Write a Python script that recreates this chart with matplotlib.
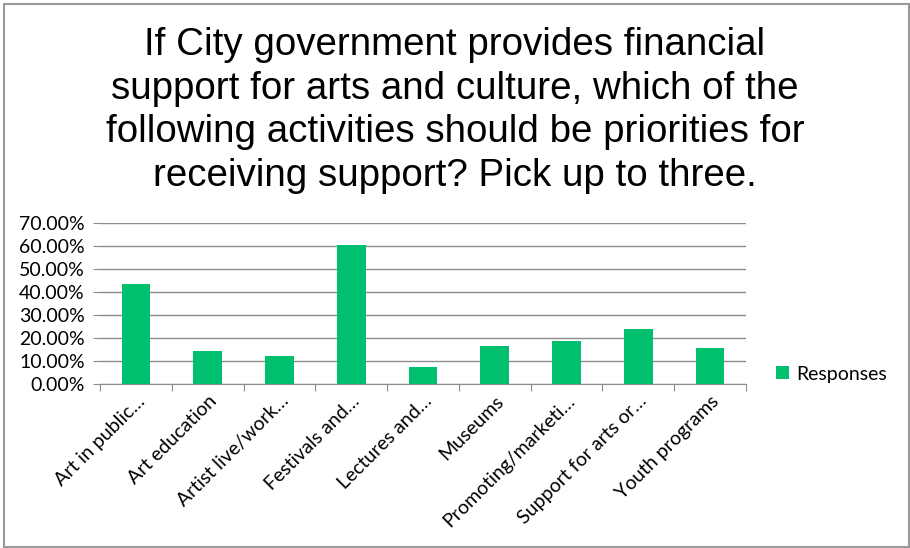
import matplotlib
matplotlib.use("Agg")
import matplotlib.pyplot as plt
from matplotlib.patches import Rectangle
from matplotlib.ticker import FuncFormatter, MultipleLocator

categories = [
    "Art in public…", "Art education", "Artist live/work…", "Festivals and…",
    "Lectures and…", "Museums", "Promoting/marketi…", "Support for arts or…",
    "Youth programs",
]
responses = [43.4, 14.2, 12.3, 60.1, 7.2, 16.5, 18.5, 23.9, 15.5]
series_name = "Responses"
title = ("If City government provides financial\n"
         "support for arts and culture, which of the\n"
         "following activities should be priorities for\n"
         "receiving support? Pick up to three.")

GREEN = "#00BF6F"
GRID = "#8C8C8C"
label_font = ["Lato", "DejaVu Sans"]

fig = plt.figure(figsize=(9.1, 5.48), dpi=100)
fig.patch.set_facecolor("white")

# outer chart border
fig.add_artist(Rectangle((3.5 / 910, 1 - 547 / 548), 905 / 910, 543 / 548,
                         transform=fig.transFigure, fill=False,
                         edgecolor="#9A9A9A", linewidth=1.5))

fig.text(0.5, 1 - 27 / 548, title, ha="center", va="top",
         fontsize=27.7, family=["Liberation Sans", "DejaVu Sans"],
         linespacing=1.27, color="black")

ax = fig.add_axes([100 / 910, 1 - 384 / 548, 646 / 910, 161.4 / 548])
x = list(range(len(categories)))
ax.bar(x, responses, width=0.4, color=GREEN, label=series_name, zorder=3)

ax.set_xlim(-0.5, len(categories) - 0.5)
ax.set_ylim(0, 70)
ax.yaxis.set_major_locator(MultipleLocator(10))
ax.yaxis.set_major_formatter(FuncFormatter(lambda v, p: f"{v:.2f}%"))
ax.grid(axis="y", color=GRID, linewidth=1, zorder=0)

for side in ("left", "right", "top"):
    ax.spines[side].set_visible(False)
ax.spines["bottom"].set_color(GRID)

ax.set_xticks([i - 0.5 for i in range(len(categories) + 1)], minor=False)
ax.set_xticklabels([])
ax.set_xticks(x, minor=True)
ax.set_xticklabels(categories, minor=True, rotation=45, ha="right",
                   rotation_mode="anchor", fontsize=14, family=label_font)
ax.tick_params(axis="x", which="major", length=5, color=GRID, direction="out")
ax.tick_params(axis="x", which="minor", length=0, pad=6)
ax.tick_params(axis="y", length=5, color=GRID, direction="out", pad=6,
               labelsize=14)
for t in ax.get_yticklabels():
    t.set_family(label_font)

leg = ax.legend(loc="center left", bbox_to_anchor=(1.02, 0.06), frameon=False,
                prop={"family": label_font, "size": 14}, handlelength=0.65,
                handleheight=0.65, handletextpad=0.35)

fig.savefig("out.png", dpi=100)
